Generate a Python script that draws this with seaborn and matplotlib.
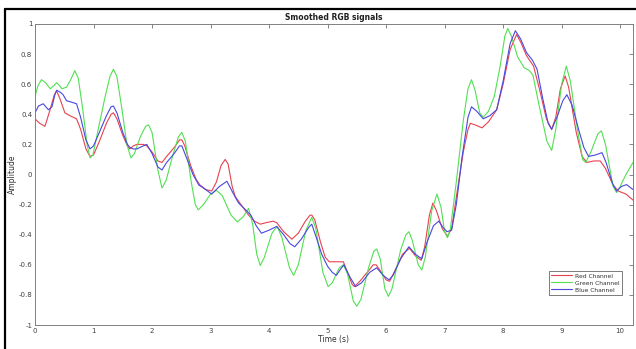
import matplotlib
matplotlib.use("Agg")
import matplotlib.pyplot as plt
from matplotlib.lines import Line2D
import seaborn as sns
import pandas as pd

# ---- data ----
t_red = [0, 0.08, 0.17, 0.25, 0.33, 0.37, 0.43, 0.51, 0.60, 0.71, 0.78, 0.87, 0.94, 1.00,
         1.10, 1.22, 1.30, 1.34, 1.40, 1.50, 1.58, 1.62, 1.68, 1.74, 1.85, 1.91, 2.00, 2.10,
         2.17, 2.25, 2.38, 2.47, 2.51, 2.56, 2.66, 2.75, 2.82, 2.92, 3.02, 3.10, 3.18, 3.25,
         3.30, 3.37, 3.42, 3.52, 3.65, 3.75, 3.85, 3.95, 4.07, 4.13, 4.25, 4.39, 4.50, 4.62,
         4.70, 4.73, 4.78, 4.88, 4.96, 5.03, 5.15, 5.27, 5.35, 5.42, 5.46, 5.55, 5.70, 5.78,
         5.83, 5.92, 6.00, 6.06, 6.15, 6.28, 6.40, 6.50, 6.60, 6.66, 6.74, 6.80, 6.86, 6.96,
         7.05, 7.12, 7.22, 7.32, 7.40, 7.44, 7.52, 7.64, 7.75, 7.89, 8.00, 8.12, 8.23, 8.30,
         8.40, 8.52, 8.62, 8.74, 8.83, 8.90, 8.98, 9.06, 9.12, 9.25, 9.35, 9.43, 9.55, 9.66,
         9.75, 9.88, 9.97, 10.10, 10.22]
red = [0.37, 0.34, 0.32, 0.42, 0.53, 0.555, 0.50, 0.41, 0.39, 0.37, 0.30, 0.17, 0.12, 0.13,
       0.22, 0.34, 0.40, 0.41, 0.37, 0.26, 0.19, 0.17, 0.19, 0.20, 0.20, 0.19, 0.15, 0.09,
       0.08, 0.12, 0.18, 0.23, 0.23, 0.19, 0.06, -0.03, -0.07, -0.10, -0.11, -0.05, 0.06, 0.10,
       0.07, -0.08, -0.145, -0.20, -0.27, -0.31, -0.33, -0.32, -0.31, -0.32, -0.38, -0.43,
       -0.39, -0.31, -0.27, -0.27, -0.30, -0.45, -0.55, -0.58, -0.58, -0.58, -0.66, -0.73,
       -0.745, -0.71, -0.64, -0.60, -0.60, -0.65, -0.70, -0.71, -0.64, -0.53, -0.49, -0.54,
       -0.57, -0.48, -0.27, -0.19, -0.24, -0.36, -0.41, -0.36, -0.10, 0.15, 0.30, 0.34, 0.33,
       0.31, 0.35, 0.43, 0.60, 0.83, 0.93, 0.88, 0.79, 0.72, 0.57, 0.37, 0.30, 0.38, 0.57,
       0.655, 0.58, 0.28, 0.12, 0.08, 0.09, 0.09, 0.04, -0.07, -0.11, -0.13, -0.17]

t_green = [0, 0.05, 0.11, 0.18, 0.26, 0.32, 0.37, 0.42, 0.46, 0.54, 0.61, 0.68, 0.74, 0.82,
           0.89, 0.94, 0.99, 1.08, 1.20, 1.28, 1.34, 1.40, 1.48, 1.57, 1.64, 1.70, 1.80, 1.89,
           1.94, 2.00, 2.10, 2.17, 2.24, 2.35, 2.45, 2.51, 2.57, 2.67, 2.74, 2.79, 2.88, 3.00,
           3.10, 3.20, 3.35, 3.46, 3.56, 3.65, 3.72, 3.79, 3.85, 3.92, 4.05, 4.14, 4.22, 4.35,
           4.42, 4.50, 4.63, 4.73, 4.80, 4.92, 5.01, 5.08, 5.20, 5.27, 5.34, 5.44, 5.50, 5.57,
           5.70, 5.79, 5.84, 5.90, 5.98, 6.04, 6.10, 6.25, 6.34, 6.39, 6.45, 6.55, 6.61, 6.67,
           6.78, 6.87, 6.94, 7.00, 7.05, 7.10, 7.20, 7.32, 7.40, 7.46, 7.52, 7.60, 7.66, 7.75,
           7.85, 7.95, 8.03, 8.08, 8.14, 8.25, 8.36, 8.45, 8.51, 8.62, 8.75, 8.83, 8.90, 9.00,
           9.08, 9.15, 9.27, 9.36, 9.41, 9.50, 9.62, 9.68, 9.75, 9.88, 9.94, 10.00, 10.10, 10.22]
green = [0.52, 0.59, 0.63, 0.61, 0.57, 0.59, 0.61, 0.59, 0.57, 0.58, 0.63, 0.69, 0.64, 0.42,
         0.20, 0.11, 0.13, 0.30, 0.52, 0.65, 0.70, 0.65, 0.45, 0.20, 0.11, 0.14, 0.25, 0.32,
         0.33, 0.28, 0.03, -0.09, -0.04, 0.12, 0.25, 0.28, 0.22, -0.05, -0.20, -0.235, -0.20,
         -0.13, -0.105, -0.14, -0.27, -0.315, -0.28, -0.225, -0.33, -0.53, -0.605, -0.55,
         -0.39, -0.345, -0.42, -0.62, -0.67, -0.60, -0.37, -0.285, -0.36, -0.65, -0.745, -0.72,
         -0.62, -0.60, -0.66, -0.84, -0.875, -0.83, -0.62, -0.51, -0.495, -0.56, -0.76, -0.81,
         -0.76, -0.50, -0.40, -0.38, -0.44, -0.60, -0.635, -0.55, -0.24, -0.13, -0.22, -0.38,
         -0.42, -0.36, -0.05, 0.36, 0.57, 0.63, 0.56, 0.41, 0.38, 0.42, 0.52, 0.72, 0.92, 0.97,
         0.92, 0.78, 0.71, 0.69, 0.66, 0.45, 0.22, 0.16, 0.30, 0.60, 0.72, 0.62, 0.30, 0.10,
         0.08, 0.15, 0.27, 0.29, 0.20, -0.08, -0.12, -0.08, 0.00, 0.08]

t_blue = [0, 0.06, 0.14, 0.23, 0.29, 0.34, 0.37, 0.44, 0.48, 0.54, 0.63, 0.71, 0.78, 0.87,
          0.94, 1.00, 1.10, 1.22, 1.30, 1.34, 1.40, 1.50, 1.58, 1.62, 1.68, 1.74, 1.85, 1.91,
          2.00, 2.10, 2.17, 2.25, 2.38, 2.47, 2.51, 2.58, 2.70, 2.80, 2.88, 3.02, 3.15, 3.28,
          3.38, 3.48, 3.56, 3.69, 3.78, 3.87, 4.00, 4.13, 4.25, 4.36, 4.44, 4.55, 4.68, 4.73,
          4.80, 4.90, 5.00, 5.08, 5.15, 5.22, 5.28, 5.38, 5.48, 5.58, 5.72, 5.84, 5.95, 6.05,
          6.12, 6.25, 6.39, 6.50, 6.61, 6.70, 6.81, 6.90, 6.97, 7.04, 7.12, 7.20, 7.30, 7.40,
          7.46, 7.55, 7.66, 7.77, 7.89, 8.00, 8.12, 8.21, 8.30, 8.40, 8.50, 8.58, 8.68, 8.77,
          8.83, 8.92, 9.02, 9.09, 9.18, 9.29, 9.38, 9.46, 9.58, 9.69, 9.76, 9.87, 9.94, 10.02,
          10.11, 10.22]
blue = [0.41, 0.455, 0.47, 0.43, 0.45, 0.53, 0.56, 0.545, 0.53, 0.49, 0.48, 0.47, 0.38, 0.23,
        0.17, 0.19, 0.28, 0.39, 0.45, 0.455, 0.41, 0.28, 0.20, 0.18, 0.17, 0.17, 0.19, 0.20,
        0.14, 0.05, 0.03, 0.08, 0.14, 0.19, 0.19, 0.12, 0.00, -0.07, -0.09, -0.13, -0.08,
        -0.045, -0.12, -0.19, -0.22, -0.27, -0.34, -0.39, -0.37, -0.345, -0.40, -0.46, -0.48,
        -0.43, -0.35, -0.33, -0.41, -0.53, -0.61, -0.65, -0.67, -0.63, -0.60, -0.68, -0.745,
        -0.72, -0.65, -0.62, -0.67, -0.70, -0.67, -0.56, -0.48, -0.53, -0.56, -0.45, -0.34,
        -0.31, -0.35, -0.38, -0.37, -0.20, 0.12, 0.38, 0.45, 0.42, 0.37, 0.39, 0.43, 0.62, 0.87,
        0.955, 0.90, 0.81, 0.76, 0.70, 0.50, 0.34, 0.30, 0.38, 0.49, 0.53, 0.46, 0.30, 0.18,
        0.12, 0.13, 0.145, 0.08, -0.06, -0.11, -0.08, -0.067, -0.10]

series_names = ["Red Channel", "Green Channel", "Blue Channel"]
x_ticks = [0, 1, 2, 3, 4, 5, 6, 7, 8, 9, 10]
y_ticks = [-1, -0.8, -0.6, -0.4, -0.2, 0, 0.2, 0.4, 0.6, 0.8, 1]
y_tick_labels = ["-1", "-0.8", "-0.6", "-0.4", "-0.2", "0", "0.2", "0.4", "0.6", "0.8", "1"]

# ---- plotting ----
sns.set_style("white")
plt.rcParams["font.family"] = ["DejaVu Sans"]

fig = plt.figure(figsize=(6.36, 3.49), dpi=100)
ax = fig.add_axes([35 / 636, 1 - 325 / 349, (633 - 35) / 636, (325 - 24) / 349])

colors = ["#e8414f", "#52e052", "#4848e0"]
for tt, vv, name, c in zip([t_red, t_green, t_blue], [red, green, blue], series_names, colors):
    df = pd.DataFrame({"t": tt, "v": vv})
    sns.lineplot(data=df, x="t", y="v", ax=ax, color=c, linewidth=0.8, label=name,
                 sort=False, estimator=None)

ax.set_xlim(0, 10.22)
ax.set_ylim(-1, 1)
ax.set_xticks(x_ticks)
ax.set_yticks(y_ticks)
ax.set_yticklabels(y_tick_labels)
ax.tick_params(direction="in", length=3, width=0.6, colors="#707070", labelsize=5,
               labelcolor="#404040", top=True, right=True, pad=2)
for s in ax.spines.values():
    s.set_visible(True)
    s.set_color("#808080")
    s.set_linewidth(0.7)

ax.set_title("Smoothed RGB signals", fontsize=5.5, fontweight="bold", pad=3, color="#202020")
ax.set_xlabel("Time (s)", fontsize=5.5, labelpad=1, color="#303030")
ax.set_ylabel("Amplitude", fontsize=5.5, labelpad=1, color="#303030")

leg = ax.legend(loc="lower right", bbox_to_anchor=(0.982, 0.1), borderaxespad=0,
                fontsize=4.3, frameon=True, fancybox=False, handlelength=3.5,
                labelspacing=0.3, borderpad=0.4, handletextpad=0.5)
leg.get_frame().set_edgecolor("#404040")
leg.get_frame().set_linewidth(0.6)
for txt in leg.get_texts():
    txt.set_color("#303030")

# screenshot-style border (top and left)
fig.add_artist(Line2D([5 / 636, 1.0], [1 - 9 / 349, 1 - 9 / 349], color="black", linewidth=1.6,
                      transform=fig.transFigure))
fig.add_artist(Line2D([5 / 636, 5 / 636], [0, 1 - 9 / 349], color="black", linewidth=1.6,
                      transform=fig.transFigure))

fig.savefig("out.png", dpi=100)
